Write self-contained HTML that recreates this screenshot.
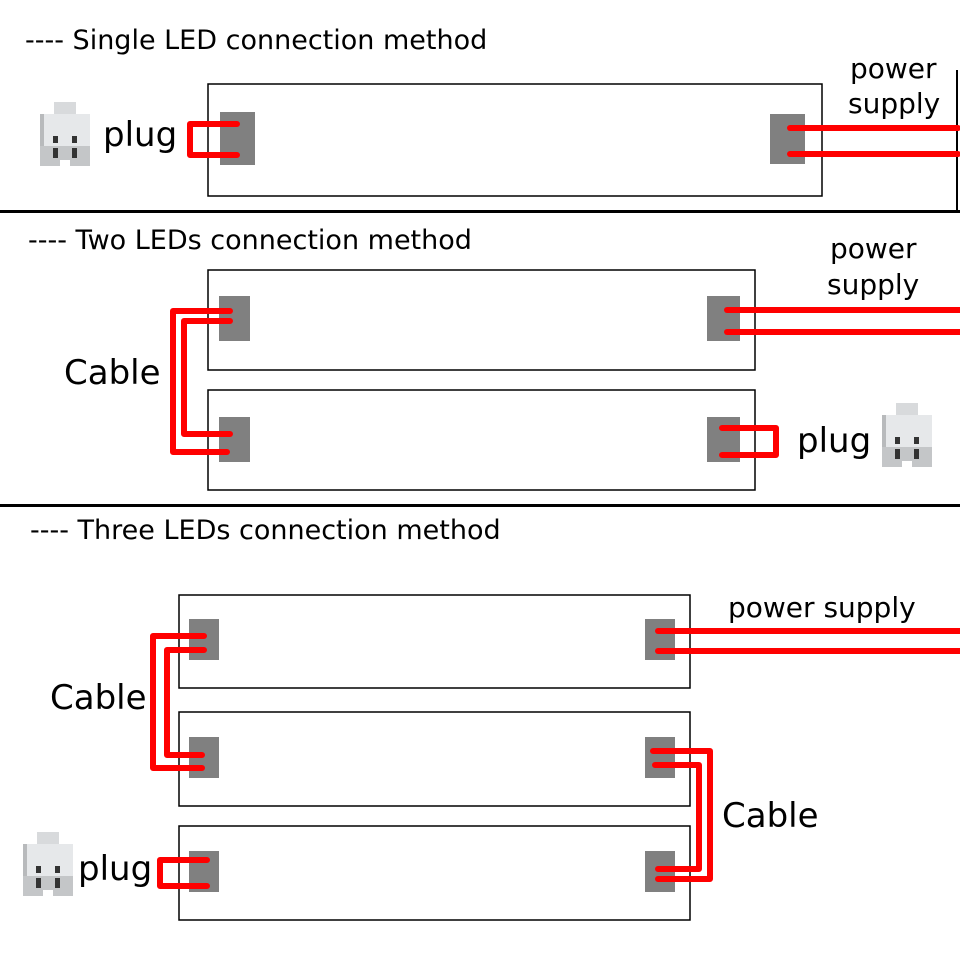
<!DOCTYPE html>
<html><head><meta charset="utf-8"><style>
html,body{margin:0;padding:0;background:#fff;}
svg{display:block;}
text{font-family:"DejaVu Sans","Liberation Sans",sans-serif;fill:#000;}
</style></head><body>
<svg width="960" height="960" viewBox="0 0 960 960" xmlns="http://www.w3.org/2000/svg">
<defs>
<g id="plugicon">
  <rect x="14" y="0" width="22" height="14" fill="#d8dadc"/>
  <rect x="0" y="12" width="50" height="52" fill="#e6e8ea"/>
  <rect x="0" y="12" width="4" height="52" fill="#b8babc"/>
  <rect x="0" y="44" width="50" height="20" fill="#c4c6c8"/>
  <rect x="13" y="34" width="5" height="7" fill="#333"/>
  <rect x="32" y="34" width="5" height="7" fill="#333"/>
  <rect x="13" y="46" width="5" height="10" fill="#333"/>
  <rect x="32" y="46" width="5" height="10" fill="#333"/>
  <rect x="20" y="58" width="10" height="6" fill="#fff"/>
</g>
</defs>
<g font-size="27">
<text x="25" y="49">---- Single LED connection method</text>
<text x="28" y="249">---- Two LEDs connection method</text>
<text x="30" y="539">---- Three LEDs connection method</text>
</g>
<!-- separators -->
<rect x="0" y="210" width="960" height="3" fill="#000"/>
<rect x="0" y="504" width="960" height="3" fill="#000"/>
<rect x="956" y="70" width="2" height="140" fill="#000"/>

<g fill="none" stroke="#000" stroke-width="1.5">
<rect x="208" y="84" width="614" height="112"/>
<rect x="208" y="270" width="547" height="100"/>
<rect x="208" y="390" width="547" height="100"/>
<rect x="179" y="595" width="511" height="93"/>
<rect x="179" y="712" width="511" height="94"/>
<rect x="179" y="826" width="511" height="94"/>
</g>
<g fill="#808080">
<rect x="220" y="112" width="35" height="53"/>
<rect x="770" y="114" width="35" height="50"/>
<rect x="219" y="296" width="31" height="45"/>
<rect x="707" y="296" width="33" height="45"/>
<rect x="219" y="417" width="31" height="45"/>
<rect x="707" y="417" width="33" height="45"/>
<rect x="189" y="619" width="30" height="41"/>
<rect x="189" y="737" width="30" height="41"/>
<rect x="189" y="851" width="30" height="41"/>
<rect x="645" y="619" width="30" height="41"/>
<rect x="645" y="737" width="30" height="41"/>
<rect x="645" y="851" width="30" height="41"/>
</g>
<g fill="none" stroke="#f00" stroke-width="6" stroke-linecap="round" stroke-linejoin="round">
<polyline points="237,124 190,124 190,155 237,155"/>
<line x1="790" y1="128" x2="958" y2="128"/>
<line x1="790" y1="154" x2="958" y2="154"/>
<polyline points="230,311 173,311 173,452 227,452"/>
<polyline points="230,321 184,321 184,434 230,434"/>
<line x1="727" y1="310" x2="960" y2="310"/>
<line x1="727" y1="332" x2="960" y2="332"/>
<polyline points="722,428 776,428 776,455 722,455"/>
<polyline points="204,636 153,636 153,768 202,768"/>
<polyline points="204,650 167,650 167,755 202,755"/>
<line x1="658" y1="631" x2="960" y2="631"/>
<line x1="658" y1="651" x2="960" y2="651"/>
<polyline points="653,751 710,751 710,879 658,879"/>
<polyline points="655,765 699,765 699,869 658,869"/>
<polyline points="207,860 160,860 160,886 207,886"/>
</g>
<g font-size="34">
<text x="103" y="146">plug</text>
<text x="797" y="452">plug</text>
<text x="78" y="880">plug</text>
<text x="64" y="384">Cable</text>
<text x="50" y="709">Cable</text>
<text x="722" y="827">Cable</text>
</g>
<g font-size="28">
<text x="850" y="78">power</text>
<text x="848" y="113">supply</text>
<text x="830" y="258">power</text>
<text x="827" y="294">supply</text>
<text x="728" y="617">power  supply</text>
</g>
<use href="#plugicon" x="40" y="102"/>
<use href="#plugicon" x="882" y="403"/>
<use href="#plugicon" x="23" y="832"/>
</svg>
</body></html>
